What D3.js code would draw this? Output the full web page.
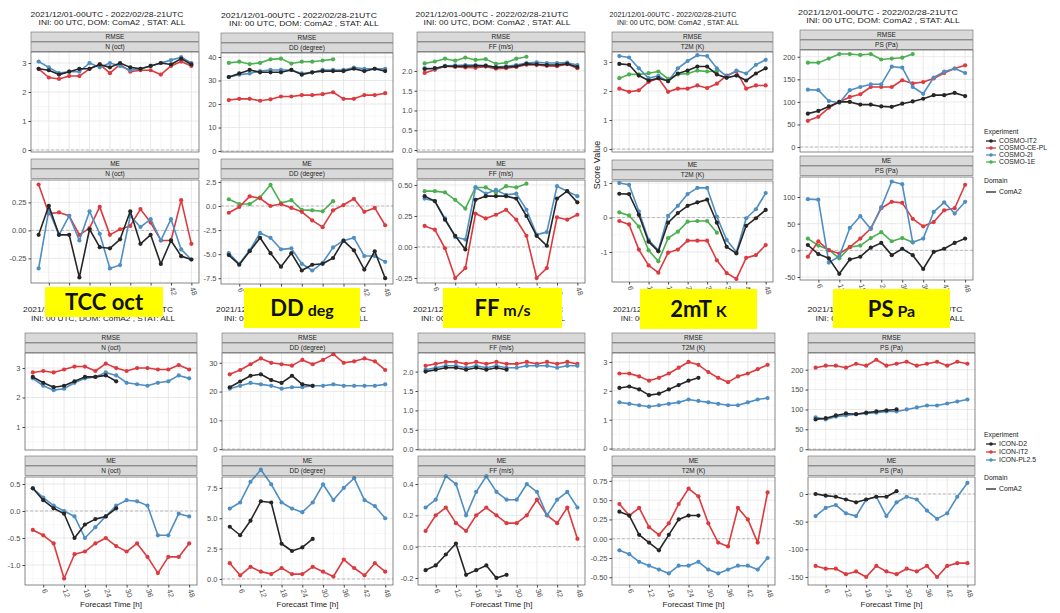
<!DOCTYPE html>
<meta charset="utf-8">
<style>
body { margin: 0; background: #fff; }
svg { font-family: "Liberation Sans", Arial, sans-serif; }
.series { fill: none; stroke-width: 1.6px; stroke-linejoin: round; }
</style>
<svg width="1060" height="613"></svg>
<script src="https://d3js.org/d3.v7.min.js"></script>
<script>

var steps = d3.range(3, 49, 3);
var xTicks = d3.range(6, 49, 6);

var cosmoModels = ["COSMO-IT2", "COSMO-CE-PL", "COSMO-2I", "COSMO-1E"];
var iconModels = ["ICON-D2", "ICON-IT2", "ICON-PL2.5"];
var modelColors = ["#262626", "#dc3a3f", "#4f8ec2", "#4caf50"];
var varLabels = ["N (oct)", "DD (degree)", "FF (m/s)", "T2M (K)", "PS (Pa)"];
var boxLabels = ["TCC", "DD", "FF", "2mT", "PS"];
var boxUnits = ["oct", "deg", "m/s", "K", "Pa"];
var titleLine1 = "2021/12/01-00UTC - 2022/02/28-21UTC";
var titleLine2 = "INI: 00 UTC, DOM:  ComA2 , STAT: ALL";

// COSMO (top row): order IT2, CE-PL, 2I, 1E
var cosmoTccRmse = [
  [2.8, 2.75, 2.6, 2.7, 2.8, 2.8, 2.95, 2.85, 3.0, 2.85, 2.8, 2.9, 3.0, 2.95, 3.15, 2.95],
  [2.8, 2.5, 2.45, 2.55, 2.55, 2.8, 2.95, 2.65, 2.95, 2.7, 2.75, 2.75, 2.6, 2.9, 3.05, 2.9],
  [3.05, 2.85, 2.65, 2.7, 2.7, 3.0, 2.85, 3.0, 2.9, 2.75, 2.8, 2.9, 3.0, 3.1, 3.2, 3.0],
  []
];
var cosmoTccMe = [
  [-0.04, 0.22, -0.04, -0.04, -0.42, 0.01, -0.15, -0.16, -0.08, 0.17, -0.12, -0.04, -0.30, -0.09, -0.23, -0.26],
  [0.41, 0.15, 0.16, 0.13, -0.04, 0.02, 0.21, -0.04, 0.01, 0.04, 0.19, 0.07, -0.09, -0.09, 0.27, -0.12],
  [-0.34, 0.18, -0.04, 0.13, -0.09, 0.17, -0.03, -0.34, -0.31, 0.13, 0.03, 0.10, -0.09, 0.10, -0.17, -0.26],
  []
];
var cosmoDdRmse = [
  [31.5, 33, 34.5, 33.5, 33.5, 33.5, 34.5, 32.5, 33.5, 34, 34, 34, 35, 34, 35, 34],
  [21.7, 22.2, 22.2, 21.4, 22, 23.2, 23.2, 23.8, 23.8, 24.2, 25, 22.2, 22.2, 23.8, 23.8, 24.6],
  [31.5, 32.5, 33, 34, 34.5, 34.5, 34.5, 33, 33.5, 34.5, 34.5, 34.5, 35.5, 35, 35, 35],
  [37.5, 38, 37, 37.5, 39, 39.3, 37.2, 38, 38, 38.5, 39]
];
var cosmoDdMe = [
  [-5.1, -6.1, -4.7, -3.3, -4.9, -6.3, -4.9, -6.7, -6.1, -6.0, -5.4, -3.6, -4.6, -6.6, -4.7, -7.5],
  [-0.7, -0.1, 1.0, 0.8, 0.0, 0.2, -0.2, -0.6, -1.5, -2.2, -0.45, 0.1, 0.75, -0.6, -0.2, -2.0],
  [-4.9, -6.0, -4.6, -2.8, -3.3, -4.5, -4.4, -6.0, -6.7, -5.9, -4.3, -3.6, -3.3, -5.2, -5.2, -5.8],
  [0.7, 0.2, 0.2, 0.9, 2.2, 0.3, 0.6, -0.4, -0.45, -0.55, 0.5]
];
var cosmoFfRmse = [
  [2.05, 2.07, 2.12, 2.12, 2.12, 2.13, 2.13, 2.09, 2.10, 2.12, 2.18, 2.17, 2.15, 2.15, 2.18, 2.10],
  [1.95, 2.03, 2.12, 2.10, 2.09, 2.08, 2.11, 2.06, 2.07, 2.10, 2.16, 2.15, 2.13, 2.12, 2.17, 2.07],
  [2.07, 2.05, 2.13, 2.14, 2.15, 2.15, 2.14, 2.10, 2.12, 2.15, 2.20, 2.22, 2.20, 2.20, 2.21, 2.15],
  [2.19, 2.24, 2.31, 2.26, 2.34, 2.28, 2.30, 2.18, 2.21, 2.31, 2.36]
];
var cosmoFfMe = [
  [0.41, 0.37, 0.22, 0.09, -0.02, 0.38, 0.41, 0.41, 0.41, 0.39, 0.25, 0.09, 0.01, 0.39, 0.45, 0.36],
  [0.17, 0.14, -0.01, -0.25, -0.17, 0.27, 0.23, 0.26, 0.30, 0.22, 0.09, -0.25, -0.17, 0.24, 0.22, 0.26],
  [0.39, 0.37, 0.23, 0.08, 0.06, 0.48, 0.43, 0.46, 0.42, 0.43, 0.30, 0.10, 0.12, 0.49, 0.45, 0.41],
  [0.45, 0.45, 0.44, 0.38, 0.31, 0.48, 0.48, 0.44, 0.49, 0.48, 0.51]
];
var cosmoT2mRmse = [
  [2.93, 2.9, 2.53, 2.36, 2.44, 2.34, 2.6, 2.7, 2.84, 2.84, 2.57, 2.45, 2.53, 2.36, 2.6, 2.78],
  [2.08, 1.97, 2.02, 2.31, 2.44, 1.97, 2.08, 2.08, 2.19, 2.1, 2.25, 2.53, 2.67, 2.08, 2.19, 2.19],
  [3.2, 3.15, 2.78, 2.44, 2.52, 2.33, 2.78, 3.03, 3.23, 3.2, 2.78, 2.5, 2.7, 2.6, 2.9, 3.07],
  [2.44, 2.57, 2.57, 2.61, 2.67, 2.42, 2.57, 2.6, 2.7, 2.67, 2.68]
];
var cosmoT2mMe = [
  [0.69, 0.68, 0.08, -0.70, -0.98, -0.15, 0.13, 0.34, 0.44, 0.52, -0.15, -0.85, -1.04, -0.24, -0.02, 0.22],
  [-0.1, -0.2, -0.93, -1.39, -1.6, -1.02, -0.93, -0.67, -0.67, -0.67, -1.24, -1.61, -1.78, -1.17, -1.09, -0.8],
  [1.0, 0.95, 0.18, -0.65, -0.95, 0.05, 0.34, 0.68, 0.86, 0.86, 0.03, -0.65, -1.0, -0.02, 0.24, 0.71],
  [0.15, 0.06, -0.26, -0.95, -1.27, -0.6, -0.41, -0.12, -0.1, -0.1, -0.44]
];
var cosmoPsRmse = [
  [74, 80, 90, 100, 100, 94, 94, 90, 89, 96, 101, 107, 115, 115, 120, 113],
  [58, 67, 87, 100, 111, 117, 133, 133, 133, 148, 141, 144, 152, 164, 174, 181],
  [127, 126, 102, 98, 126, 133, 139, 139, 178, 176, 133, 118, 154, 167, 174, 164],
  [187, 187, 196, 206, 206, 204, 206, 194, 196, 198, 206]
];
var cosmoPsMe = [
  [10, -7, -15, -44, -17, -12, 5, 14, -9, 3, -9, -35, -3, 3, 14, 22],
  [-12, 17, 0, -6, 6, 22, 41, 79, 91, 89, 59, 45, 53, 75, 79, 123],
  [96, 95, -23, -11, 42, 64, 40, 81, 129, 124, 15, 22, 72, 90, 69, 91],
  [22, 9, 1, -15, 6, 9, 23, 34, 17, 23, 15]
];

// ICON (bottom row): order D2, IT2, PL2.5
var iconTccRmse = [
  [2.7, 2.5, 2.35, 2.4, 2.55, 2.7, 2.7, 2.75, 2.55],
  [2.85, 2.9, 2.85, 2.95, 3.05, 3.05, 2.9, 3.15, 3.0, 2.9, 3.0, 3.0, 2.95, 2.95, 3.1, 2.95],
  [2.65, 2.4, 2.25, 2.3, 2.5, 2.65, 2.7, 2.85, 2.75, 2.5, 2.45, 2.4, 2.5, 2.55, 2.75, 2.65]
];
var iconTccMe = [
  [0.42, 0.2, 0.05, -0.05, -0.5, -0.25, -0.15, -0.1, 0.05],
  [-0.35, -0.45, -0.6, -1.25, -0.8, -0.75, -0.6, -0.5, -0.65, -0.75, -0.6, -0.85, -1.15, -0.85, -0.85, -0.6],
  [0.42, 0.25, 0.1, 0.0, -0.1, -0.5, -0.3, -0.1, 0.1, 0.2, 0.18, 0.1, -0.45, -0.45, -0.05, -0.1]
];
var iconDdRmse = [
  [21.5, 23.5, 25.5, 26, 24, 23, 25.5, 22.5, 22],
  [26, 27.5, 29.5, 31.5, 30, 29.5, 29, 31, 29.5, 31, 33, 30, 30.5, 31.5, 30.5, 27.5],
  [21, 22, 23, 22.5, 22, 21, 21.5, 21.5, 22, 22, 22.5, 22, 22, 22, 22, 22.5]
];
var iconDdMe = [
  [4.3, 3.6, 4.8, 6.4, 6.3, 2.9, 2.3, 2.6, 3.3],
  [1.3, 0.3, 1.0, 0.6, 0.4, 0.9, 0.4, 0.4, 1.0, 0.6, 0.2, 1.6, 0.9, 0.3, 1.3, 0.6],
  [5.8, 6.3, 8.0, 9.0, 7.8, 6.3, 5.8, 5.5, 6.3, 7.8, 6.5, 7.5, 8.3, 6.5, 6.0, 5.0]
];
var iconFfRmse = [
  [2.0, 2.05, 2.1, 2.1, 2.05, 2.1, 2.05, 2.1, 2.05],
  [2.15, 2.2, 2.25, 2.25, 2.2, 2.25, 2.2, 2.25, 2.2, 2.2, 2.25, 2.2, 2.25, 2.2, 2.25, 2.2],
  [2.05, 2.1, 2.15, 2.15, 2.1, 2.15, 2.1, 2.15, 2.1, 2.1, 2.15, 2.15, 2.15, 2.1, 2.15, 2.15]
];
var iconFfMe = [
  [-0.15, -0.12, -0.05, 0.02, -0.18, -0.15, -0.12, -0.2, -0.18],
  [0.1, 0.2, 0.25, 0.15, 0.1, 0.2, 0.25, 0.2, 0.15, 0.15, 0.2, 0.3, 0.2, 0.15, 0.25, 0.05],
  [0.25, 0.3, 0.45, 0.4, 0.2, 0.35, 0.45, 0.35, 0.3, 0.3, 0.4, 0.35, 0.2, 0.3, 0.35, 0.25]
];
var iconT2mRmse = [
  [2.1, 2.15, 2.05, 1.85, 1.9, 2.05, 2.2, 2.35, 2.45],
  [2.6, 2.6, 2.5, 2.35, 2.45, 2.6, 2.8, 3.0, 2.9, 2.65, 2.45, 2.3, 2.5, 2.6, 2.75, 2.9],
  [1.6, 1.55, 1.5, 1.45, 1.5, 1.55, 1.6, 1.7, 1.65, 1.6, 1.55, 1.5, 1.5, 1.6, 1.7, 1.75]
];
var iconT2mMe = [
  [0.35, 0.3, 0.05, -0.05, -0.15, 0.05, 0.25, 0.3, 0.3],
  [0.45, 0.3, 0.4, 0.15, 0.05, 0.2, 0.45, 0.65, 0.55, 0.2, -0.05, -0.1, 0.4, 0.25, -0.05, 0.6],
  [-0.15, -0.2, -0.3, -0.35, -0.4, -0.45, -0.35, -0.35, -0.3, -0.4, -0.45, -0.4, -0.35, -0.35, -0.4, -0.25]
];
var iconPsRmse = [
  [75, 78, 85, 90, 88, 92, 95, 98, 100],
  [205, 210, 210, 205, 215, 210, 225, 210, 215, 220, 210, 215, 220, 210, 220, 215],
  [80, 75, 82, 85, 88, 90, 92, 95, 95, 100, 105, 110, 110, 115, 120, 125]
];
var iconPsMe = [
  [0, -3, -5, -10, -15, -10, -5, -5, 5],
  [-130, -135, -135, -145, -140, -150, -130, -140, -145, -135, -140, -130, -150, -130, -125, -125],
  [-40, -25, -20, -35, -40, -10, -5, -40, -15, -5, -10, -30, -45, -35, -5, 20]
];

// y ticks per panel
var cosmoRmseTicks = [[0, 1, 2, 3], [0, 10, 20, 30, 40], [0, 0.5, 1, 1.5, 2], [0, 1, 2, 3], [0, 50, 100, 150, 200]];
var cosmoMeTicks = [[-0.25, 0, 0.25], [-7.5, -5, -2.5, 0, 2.5], [-0.25, 0, 0.25, 0.5], [-1, 0, 1], [-50, 0, 50, 100]];
var iconRmseTicks = [[1, 2, 3], [0, 10, 20, 30], [0, 0.5, 1, 1.5, 2], [0, 1, 2, 3], [0, 50, 100, 150, 200]];
var iconMeTicks = [[-1, -0.5, 0, 0.5], [0, 2.5, 5, 7.5], [-0.2, 0, 0.2, 0.4], [-0.5, -0.25, 0, 0.25, 0.5, 0.75], [-150, -100, -50, 0]];

// layout
var topCols = [
  {x0: 31, x1: 199, rTop: 52, rBot: 152, mTop: 180, mBot: 283, tx: 107, tw: 153},
  {x0: 221, x1: 393, rTop: 53, rBot: 152, mTop: 180, mBot: 284, tx: 299, tw: 156},
  {x0: 417, x1: 585, rTop: 52, rBot: 152, mTop: 180, mBot: 283, tx: 492, tw: 153},
  {x0: 612, x1: 773, rTop: 52, rBot: 152, mTop: 181, mBot: 282, tx: 673, tw: 127},
  {x0: 800, x1: 973, rTop: 50, rBot: 152, mTop: 177, mBot: 280, tx: 878, tw: 160}
];
var topRmseDomains = [[-0.07, 3.38], [-0.4, 41.7], [-0.05, 2.48], [-0.1, 3.34], [-11, 215]];
var topMeDomains = [[-0.47, 0.45], [-8.1, 2.7], [-0.29, 0.54], [-1.87, 1.06], [-55.6, 137.5]];

var botCols = [
  {x0: 25, x1: 197, rTop: 353, rBot: 450, mTop: 477, mBot: 585, tx: 98, tw: 150},
  {x0: 222, x1: 393, rTop: 353, rBot: 450, mTop: 477, mBot: 585, tx: 291, tw: 150},
  {x0: 418, x1: 585, rTop: 353, rBot: 450, mTop: 477, mBot: 585, tx: 488, tw: 150},
  {x0: 612, x1: 775, rTop: 353, rBot: 450, mTop: 477, mBot: 585, tx: 683, tw: 140},
  {x0: 808, x1: 975, rTop: 353, rBot: 450, mTop: 477, mBot: 585, tx: 885, tw: 155}
];
var botRmseDomains = [[0.22, 3.51], [-0.3, 33.4], [-0.02, 2.48], [-0.05, 3.31], [-2, 242]];
var botMeDomains = [[-1.37, 0.63], [-0.5, 8.4], [-0.245, 0.445], [-0.6, 0.8], [-164.5, 30.7]];

var boxes = [
  {x: 45, y: 287, w: 118, h: 30},
  {x: 244, y: 288, w: 116, h: 40},
  {x: 443, y: 288, w: 119, h: 40},
  {x: 640, y: 289, w: 117, h: 40},
  {x: 833, y: 289, w: 117, h: 39}
];

var svg = d3.select("svg");
var loc = d3.formatLocale({decimal: ".", thousands: ",", grouping: [3], currency: ["", ""], minus: "-"});

function fmtFor(ticks) {
  var dec = 0;
  ticks.forEach(function(t) {
    var s = String(t), k = s.indexOf(".");
    if (k >= 0) dec = Math.max(dec, s.length - k - 1);
  });
  return loc.format("." + dec + "f");
}

function drawStrip(x0, x1, y, label) {
  svg.append("rect").attr("x", x0).attr("y", y).attr("width", x1 - x0).attr("height", 9.5)
    .attr("fill", "#d9d9d9").attr("stroke", "#6b6b6b").attr("stroke-width", 0.6);
  svg.append("text").attr("x", (x0 + x1) / 2).attr("y", y + 7).attr("text-anchor", "middle")
    .attr("font-size", 6.5).attr("fill", "#222").text(label);
}

function drawPanel(c, y0, y1, domain, ticks, series, order, showX) {
  var g = svg.append("g");
  var x = d3.scaleLinear().domain([0.75, 50.25]).range([c.x0, c.x1]);
  var y = d3.scaleLinear().domain(domain).range([y1, y0]);

  g.append("rect").attr("x", c.x0).attr("y", y0).attr("width", c.x1 - c.x0).attr("height", y1 - y0).attr("fill", "#fff");

  var step = ticks[1] - ticks[0];
  var yMinor = [ticks[0] - step / 2].concat(ticks.map(function(t) { return t + step / 2; }))
    .filter(function(v) { return v > domain[0] && v < domain[1]; });
  var xMinor = d3.range(3, 49, 6);

  g.selectAll(".ymin").data(yMinor).join("line")
    .attr("x1", c.x0).attr("x2", c.x1).attr("y1", y).attr("y2", y)
    .attr("stroke", "#efefef").attr("stroke-width", 0.5);
  g.selectAll(".xmin").data(xMinor).join("line")
    .attr("x1", x).attr("x2", x).attr("y1", y0).attr("y2", y1)
    .attr("stroke", "#efefef").attr("stroke-width", 0.5);
  g.selectAll(".ymaj").data(ticks).join("line")
    .attr("x1", c.x0).attr("x2", c.x1).attr("y1", y).attr("y2", y)
    .attr("stroke", "#e0e0e0").attr("stroke-width", 0.7);
  g.selectAll(".xmaj").data(xTicks).join("line")
    .attr("x1", x).attr("x2", x).attr("y1", y0).attr("y2", y1)
    .attr("stroke", "#e0e0e0").attr("stroke-width", 0.7);

  if (domain[0] < 0 && domain[1] > 0) {
    g.append("line").attr("x1", c.x0).attr("x2", c.x1).attr("y1", y(0)).attr("y2", y(0))
      .attr("stroke", "#9a9a9a").attr("stroke-width", 0.6).attr("stroke-dasharray", "3,2");
  }

  var line = d3.line()
    .x(function(d, i) { return x(steps[i]); })
    .y(function(d) { return y(d); });

  order.forEach(function(k) {
    var s = series[k];
    if (!s || !s.length) return;
    g.append("path").attr("class", "series").attr("d", line(s)).attr("stroke", modelColors[k]);
    g.selectAll(".pt" + k).data(s).join("circle")
      .attr("cx", function(d, i) { return x(steps[i]); })
      .attr("cy", function(d) { return y(d); })
      .attr("r", 2.1).attr("fill", modelColors[k]);
  });

  g.append("rect").attr("x", c.x0).attr("y", y0).attr("width", c.x1 - c.x0).attr("height", y1 - y0)
    .attr("fill", "none").attr("stroke", "#555").attr("stroke-width", 0.7);

  var ay = g.append("g").attr("transform", "translate(" + c.x0 + ",0)")
    .call(d3.axisLeft(y).tickValues(ticks).tickFormat(fmtFor(ticks)).tickSize(2.5).tickPadding(2));
  ay.select(".domain").remove();
  ay.attr("font-family", null).attr("font-size", 7.5);
  ay.selectAll("text").attr("fill", "#4d4d4d");
  ay.selectAll("line").attr("stroke", "#444");

  if (showX) {
    var ax = g.append("g").attr("transform", "translate(0," + y1 + ")")
      .call(d3.axisBottom(x).tickValues(xTicks).tickSize(2.5).tickPadding(2));
    ax.select(".domain").remove();
    ax.attr("font-family", null).attr("font-size", 7.5);
    ax.selectAll("line").attr("stroke", "#444");
    ax.selectAll("text").attr("fill", "#4d4d4d")
      .attr("text-anchor", "start").attr("dy", null)
      .attr("transform", "translate(-2,5) rotate(72)").attr("y", 0).attr("x", 0);
  }
}

function drawGroup(cols, rmse, me, rmseDom, meDom, rmseTicks, meTicks, order, t1y, t2y, xTitle) {
  cols.forEach(function(c, i) {
    svg.append("text").attr("x", c.tx).attr("y", t1y(c)).attr("text-anchor", "middle")
      .attr("font-size", 8).attr("fill", "#1a1a1a")
      .attr("textLength", c.tw).attr("lengthAdjust", "spacingAndGlyphs").text(titleLine1);
    svg.append("text").attr("x", c.tx + 5).attr("y", t2y(c)).attr("text-anchor", "middle")
      .attr("font-size", 8).attr("fill", "#1a1a1a")
      .attr("textLength", c.tw * 0.96).attr("lengthAdjust", "spacingAndGlyphs").text(titleLine2);

    drawStrip(c.x0, c.x1, c.rTop - 20, "RMSE");
    drawStrip(c.x0, c.x1, c.rTop - 10, varLabels[i]);
    drawPanel(c, c.rTop, c.rBot, rmseDom[i], rmseTicks[i], rmse[i], order, false);

    drawStrip(c.x0, c.x1, c.mTop - 21, "ME");
    drawStrip(c.x0, c.x1, c.mTop - 11, varLabels[i]);
    drawPanel(c, c.mTop, c.mBot, meDom[i], meTicks[i], me[i], order, true);

    if (xTitle) {
      svg.append("text").attr("x", (c.x0 + c.x1) / 2).attr("y", c.mBot + 22).attr("text-anchor", "middle")
        .attr("font-size", 8).attr("fill", "#1a1a1a").text("Forecast Time [h]");
    }
  });
}

var cosmoRmse = [cosmoTccRmse, cosmoDdRmse, cosmoFfRmse, cosmoT2mRmse, cosmoPsRmse];
var cosmoMe = [cosmoTccMe, cosmoDdMe, cosmoFfMe, cosmoT2mMe, cosmoPsMe];
var iconRmse = [iconTccRmse, iconDdRmse, iconFfRmse, iconT2mRmse, iconPsRmse];
var iconMe = [iconTccMe, iconDdMe, iconFfMe, iconT2mMe, iconPsMe];

drawGroup(botCols, iconRmse, iconMe, botRmseDomains, botMeDomains, iconRmseTicks, iconMeTicks, [1, 2, 0],
  function() { return 312; }, function() { return 321; }, true);
drawGroup(topCols, cosmoRmse, cosmoMe, topRmseDomains, topMeDomains, cosmoRmseTicks, cosmoMeTicks, [3, 1, 2, 0],
  function(c) { return c.rTop - 35; }, function(c) { return c.rTop - 27; }, false);

// y axis title
svg.append("text").attr("transform", "translate(600,165) rotate(-90)").attr("text-anchor", "middle")
  .attr("font-size", 9).attr("fill", "#1a1a1a").text("Score Value");

// legends
function drawLegend(x, y, models, idx, gapItem, domY) {
  svg.append("text").attr("x", x).attr("y", y).attr("font-size", 6.8).attr("fill", "#222").text("Experiment");
  models.forEach(function(m, i) {
    var yy = y + 9 + i * gapItem;
    svg.append("line").attr("x1", x + 2).attr("x2", x + 12).attr("y1", yy - 2).attr("y2", yy - 2)
      .attr("stroke", modelColors[idx[i]]).attr("stroke-width", 1.3);
    svg.append("circle").attr("cx", x + 7).attr("cy", yy - 2).attr("r", 1.8).attr("fill", modelColors[idx[i]]);
    svg.append("text").attr("x", x + 15).attr("y", yy).attr("font-size", 6.8).attr("fill", "#222").text(m);
  });
  svg.append("text").attr("x", x).attr("y", domY).attr("font-size", 6.8).attr("fill", "#222").text("Domain");
  svg.append("line").attr("x1", x + 2).attr("x2", x + 12).attr("y1", domY + 9).attr("y2", domY + 9)
    .attr("stroke", "#262626").attr("stroke-width", 1.3);
  svg.append("text").attr("x", x + 15).attr("y", domY + 11).attr("font-size", 6.8).attr("fill", "#222").text("ComA2");
}
drawLegend(984, 134, cosmoModels, [0, 1, 2, 3], 7, 183);
drawLegend(984, 437, iconModels, [0, 1, 2], 8, 480);

// yellow variable labels laid over the plots
boxes.forEach(function(b, i) {
  svg.append("rect").attr("x", b.x).attr("y", b.y).attr("width", b.w).attr("height", b.h).attr("fill", "#ffff00");
  var t = svg.append("text").attr("x", b.x + b.w / 2).attr("y", b.y + b.h / 2 + 8).attr("text-anchor", "middle")
    .attr("font-family", "Lato, 'Open Sans', sans-serif").attr("font-weight", "bold").attr("fill", "#111");
  t.append("tspan").attr("font-size", 22).text(boxLabels[i]);
  t.append("tspan").attr("font-size", i === 0 ? 22 : 16).text(" " + boxUnits[i]);
});

</script>
